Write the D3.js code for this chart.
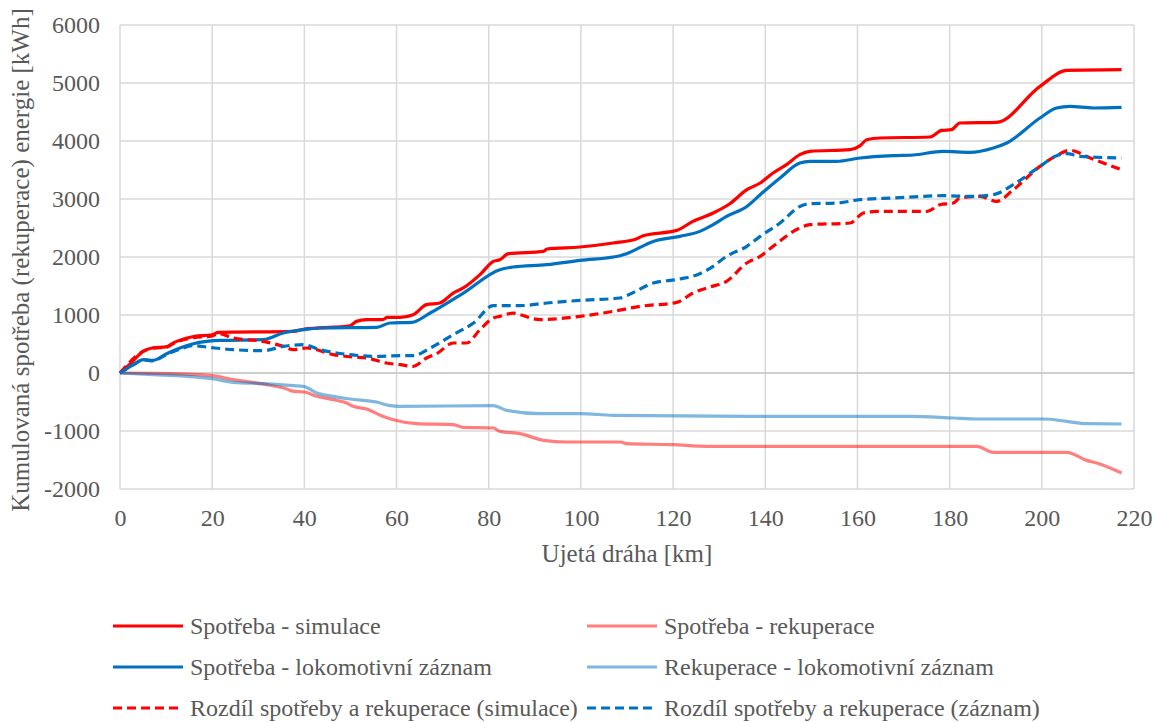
<!DOCTYPE html>
<html>
<head>
<meta charset="utf-8">
<script src="https://cdn.jsdelivr.net/npm/d3@7"></script>
</head>
<body style="margin:0; background:#fff">
<div id="graf"></div>
<script>
// [km, kWh]
const spotrebaSim = [[0,0],[2.5,180],[5,372],[7.2,435],[10,450],[11.6,520],[16,630],[20,660],[21.3,700],[37.6,718],[40,758],[42.7,775],[49.9,815],[51.3,890],[53.5,920],[57,920],[58,960],[60.8,960],[63.6,1005],[66.5,1178],[69.4,1207],[72.3,1379],[74.5,1466],[78.1,1695],[81,1925],[82.4,1953],[84.3,2057],[91.9,2097],[92.6,2138],[99.8,2172],[107,2241],[112,2310],[113.5,2367],[120.8,2459],[124.3,2614],[128.7,2759],[132.3,2919],[136,3160],[138.9,3276],[141.7,3448],[144.6,3592],[147.5,3764],[149.7,3821],[158.4,3851],[160.6,3920],[162,4022],[164.9,4052],[175.7,4069],[178.3,4183],[180.4,4195],[182.2,4310],[190.2,4321],[199.6,4942],[205.4,5217],[217.3,5229]];
const rekupSim = [[0,0],[8,-5],[14,-20],[20,-46],[24.6,-115],[31.8,-201],[36.2,-276],[37.6,-316],[40,-328],[42.7,-402],[46.3,-460],[49.2,-517],[50.6,-575],[53.5,-621],[57,-747],[59.3,-805],[64.4,-874],[72.3,-891],[74.5,-937],[81,-948],[82.4,-1006],[86.8,-1046],[91.9,-1161],[96.9,-1190],[108.5,-1190],[109.9,-1219],[120,-1236],[127.3,-1265],[185.9,-1265],[189.5,-1368],[205.4,-1368],[209.7,-1506],[211.9,-1552],[217.3,-1724]];
const spotrebaZaz = [[0,0],[2.9,143],[5.1,230],[7.2,218],[10.1,333],[13,431],[15.9,505],[18.8,545],[21.7,563],[31.1,574],[35.4,690],[39.8,747],[43.4,776],[55.7,787],[58.6,862],[63.3,873],[67.3,1034],[74.5,1379],[82.4,1781],[85.3,1827],[92.6,1867],[99.8,1941],[108.5,2022],[109.9,2057],[115.7,2269],[121.5,2356],[125.8,2442],[128.7,2557],[131.6,2700],[136,2872],[138.9,3074],[143.2,3362],[147.5,3620],[149.7,3649],[155.5,3649],[160.6,3707],[167.8,3747],[172.1,3759],[178.6,3821],[184.4,3804],[189.5,3879],[192.4,3965],[199.6,4396],[203.2,4569],[206.1,4597],[211.2,4569],[217.3,4580]];
const rekupZaz = [[0,0],[7.2,-29],[14,-55],[20,-98],[24.6,-161],[31.1,-184],[37.6,-218],[39.8,-230],[42.7,-345],[46.3,-402],[49.9,-448],[55.7,-500],[58.6,-563],[60.8,-575],[81,-563],[83.9,-644],[91.1,-701],[99.8,-701],[107,-730],[143.2,-747],[171.4,-747],[180.8,-776],[185.9,-793],[200.3,-793],[205.4,-833],[209.7,-874],[217.3,-879]];
const rozdilSim = [[0,0],[5,372],[7.2,430],[10,445],[11.6,510],[16,610],[20,640],[21.3,680],[24.6,603],[31.1,545],[35.4,459],[37.6,402],[40.5,431],[46.3,316],[50.6,276],[53.5,259],[57.8,172],[60.8,143],[63.6,115],[66.5,259],[68.7,333],[72.3,517],[75.2,517],[78.1,747],[81,948],[82.4,977],[85.3,1034],[86.8,1005],[91.1,920],[99.8,977],[107,1063],[112.8,1149],[120.8,1218],[124.3,1379],[128,1483],[131.6,1580],[136,1897],[138.9,2011],[141.7,2184],[147.5,2500],[149.7,2557],[158.4,2586],[161.3,2759],[164.2,2786],[175,2786],[177.9,2902],[180.8,2931],[182.2,3017],[186.6,3045],[190.2,2959],[193.8,3160],[199.6,3563],[203.2,3747],[206.1,3839],[210.5,3707],[217.3,3505]];
const rozdilZaz = [[0,0],[2.9,143],[5.1,228],[7.2,210],[10.1,320],[13,410],[15.9,470],[18.8,447],[24.6,402],[31.1,385],[35.4,459],[39.8,488],[43.4,402],[49.9,316],[55.7,287],[60.8,299],[63.6,299],[67.3,431],[72.3,661],[76.7,862],[81,1161],[86.8,1161],[92.6,1207],[99.8,1252],[108.5,1293],[109.9,1333],[115.7,1552],[121.5,1621],[125.8,1712],[128.7,1839],[131.6,2011],[136,2184],[138.9,2356],[143.2,2586],[147.5,2872],[149.7,2919],[155.5,2931],[160.6,2988],[167.8,3017],[178.6,3057],[184.4,3045],[189.5,3074],[193.8,3247],[199.6,3563],[203.2,3747],[205.4,3782],[208.3,3736],[217.3,3707]];

const xTicks = d3.range(0, 221, 20);
const yTicks = d3.range(-2000, 6001, 1000);

const series = [
  {name: "Spotřeba - simulace", data: spotrebaSim, color: "#FF0000", opacity: 1, dash: null},
  {name: "Spotřeba - rekuperace", data: rekupSim, color: "#FF0000", opacity: 0.5, dash: null},
  {name: "Spotřeba - lokomotivní záznam", data: spotrebaZaz, color: "#0070C0", opacity: 1, dash: null},
  {name: "Rekuperace - lokomotivní záznam", data: rekupZaz, color: "#0070C0", opacity: 0.5, dash: null},
  {name: "Rozdíl spotřeby a rekuperace (simulace)", data: rozdilSim, color: "#FF0000", opacity: 1, dash: "9,5"},
  {name: "Rozdíl spotřeby a rekuperace (záznam)", data: rozdilZaz, color: "#0070C0", opacity: 1, dash: "9,5"}
];

const svg = d3.select("#graf").append("svg")
  .attr("width", 1155).attr("height", 722);
const plot = {left: 120, right: 1134, top: 25, bottom: 489};
const textColor = "#595959";
const serifFont = d => '"Liberation Serif"';

const x = d3.scaleLinear().domain([0, 220]).range([plot.left, plot.right]);
const y = d3.scaleLinear().domain([-2000, 6000]).range([plot.bottom, plot.top]);

// grid
svg.append("g").selectAll("line").data(xTicks).enter().append("line")
  .attr("x1", d => x(d)).attr("x2", d => x(d))
  .attr("y1", plot.top).attr("y2", plot.bottom)
  .attr("stroke", "#D9D9D9").attr("stroke-width", 1.5);
svg.append("g").selectAll("line").data(yTicks).enter().append("line")
  .attr("x1", plot.left).attr("x2", plot.right)
  .attr("y1", d => y(d)).attr("y2", d => y(d))
  .attr("stroke", d => d === 0 ? "#BFBFBF" : "#D9D9D9").attr("stroke-width", 1.5);

// axes labels (hyphen minus like the original)
const yAxis = svg.append("g").attr("transform", `translate(${plot.left},0)`)
  .call(d3.axisLeft(y).tickValues(yTicks).tickSize(0).tickPadding(20).tickFormat(d => String(d)));
const xAxis = svg.append("g").attr("transform", `translate(0,${plot.bottom})`)
  .call(d3.axisBottom(x).tickValues(xTicks).tickSize(0).tickPadding(20));
[xAxis, yAxis].forEach(a => {
  a.attr("font-family", null).attr("font-size", null);
  a.select(".domain").remove();
  a.selectAll("text").style("font-family", serifFont).attr("font-size", 24).attr("fill", textColor);
});

// lines
const line = d3.line().x(d => x(d[0])).y(d => y(d[1])).curve(d3.curveMonotoneX);
svg.append("g").selectAll("path").data(series).enter().append("path")
  .attr("d", d => line(d.data))
  .attr("fill", "none")
  .attr("stroke", d => d.color)
  .attr("stroke-opacity", d => d.opacity)
  .attr("stroke-width", 3.2)
  .attr("stroke-dasharray", d => d.dash);

// titles
svg.append("text")
  .attr("x", (plot.left + plot.right) / 2).attr("y", 562)
  .attr("text-anchor", "middle").style("font-family", serifFont).attr("font-size", 25).attr("fill", textColor)
  .text("Ujetá dráha [km]");
svg.append("text")
  .attr("transform", `translate(29,${(plot.top + plot.bottom) / 2 + 3}) rotate(-90)`)
  .attr("text-anchor", "middle").style("font-family", serifFont).attr("font-size", 25).attr("fill", textColor)
  .text("Kumulovaná spotřeba (rekuperace) energie [kWh]");

// legend
const legend = svg.append("g").selectAll("g").data(series).enter().append("g")
  .attr("transform", (d, i) => `translate(${i % 2 === 0 ? 113 : 587},${626 + Math.floor(i / 2) * 41})`);
legend.append("line")
  .attr("x1", 0).attr("x2", 70)
  .attr("stroke", d => d.color)
  .attr("stroke-opacity", d => d.opacity)
  .attr("stroke-width", 3.2)
  .attr("stroke-dasharray", d => d.dash);
legend.append("text")
  .attr("x", 77).attr("dy", "0.33em")
  .style("font-family", serifFont).attr("font-size", 24).attr("fill", textColor)
  .text(d => d.name);
</script>
</body>
</html>
